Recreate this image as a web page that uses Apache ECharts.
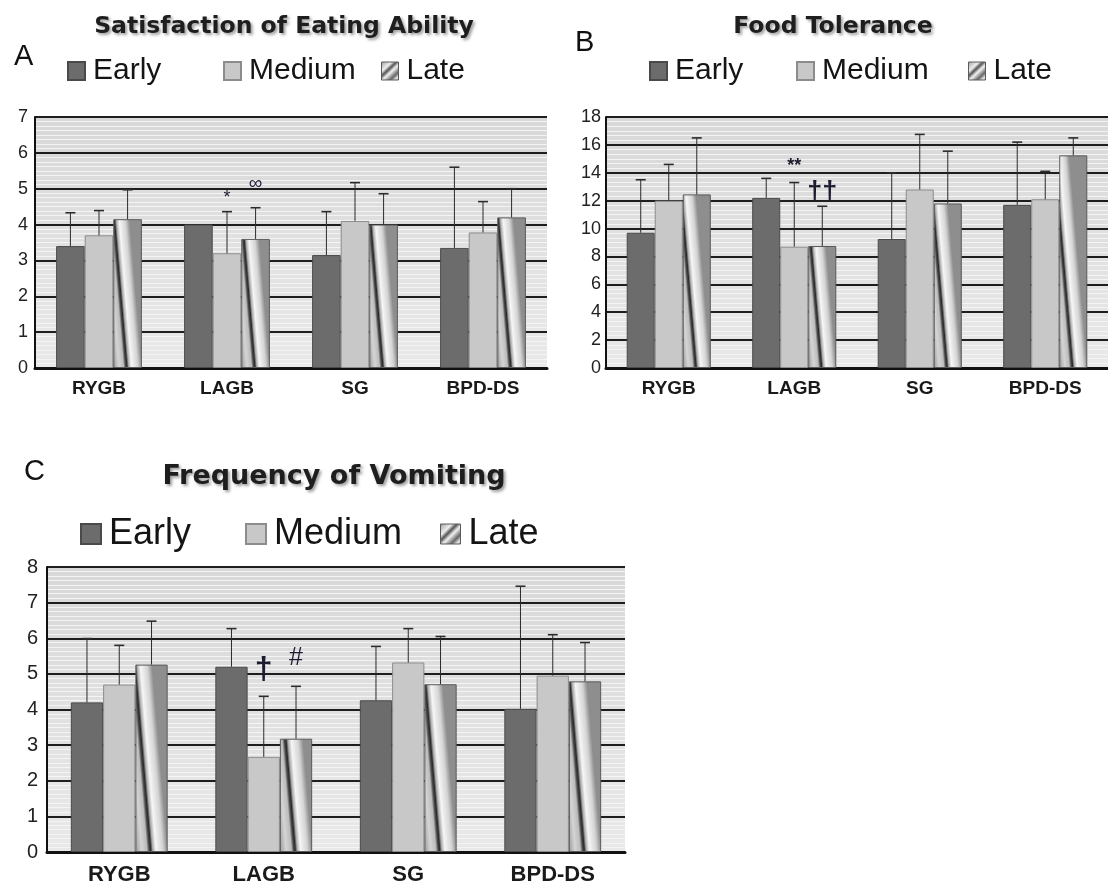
<!DOCTYPE html>
<html>
<head>
<meta charset="utf-8">
<script src="https://cdn.jsdelivr.net/npm/echarts@6/dist/echarts.min.js"></script>
<style>
  html, body { margin: 0; padding: 0; background: #ffffff; }
  #chart { width: 1108px; height: 888px; }
</style>
</head>
<body>
<div id="chart"></div>
<script>
// ---- data ----
const categories = ['RYGB', 'LAGB', 'SG', 'BPD-DS'];
const seriesNames = ['Early', 'Medium', 'Late'];

// A: Satisfaction of Eating Ability (means and mean + SD)
const eatingEarly = [3.4, 4.0, 3.15, 3.35];
const eatingMedium = [3.7, 3.2, 4.1, 3.78];
const eatingLate = [4.15, 3.6, 4.0, 4.2];
const eatingEarlyTop = [4.33, null, 4.36, 5.6];
const eatingMediumTop = [4.39, 4.36, 5.17, 4.64];
const eatingLateTop = [4.97, 4.47, 4.86, 5.0];
const eatingTicks = [0, 1, 2, 3, 4, 5, 6, 7];

// B: Food Tolerance
const toleranceEarly = [9.7, 12.2, 9.25, 11.7];
const toleranceMedium = [12.0, 8.7, 12.8, 12.1];
const toleranceLate = [12.45, 8.75, 11.8, 15.25];
const toleranceEarlyTop = [13.5, 13.6, 14.0, 16.2];
const toleranceMediumTop = [14.6, 13.3, 16.75, 14.1];
const toleranceLateTop = [16.5, 11.6, 15.55, 16.5];
const toleranceTicks = [0, 2, 4, 6, 8, 10, 12, 14, 16, 18];

// C: Frequency of Vomiting
const vomitingEarly = [4.2, 5.2, 4.26, 4.02];
const vomitingMedium = [4.7, 2.67, 5.32, 4.95];
const vomitingLate = [5.26, 3.18, 4.71, 4.79];
const vomitingEarlyTop = [5.99, 6.27, 5.77, 7.46];
const vomitingMediumTop = [5.8, 4.37, 6.27, 6.1];
const vomitingLateTop = [6.48, 4.65, 6.05, 5.88];
const vomitingTicks = [0, 1, 2, 3, 4, 5, 6, 7, 8];

// significance marks: category, series slot, height in axis units, symbol
const eatingMarks = [['LAGB', 'Medium', 4.74, '*'], ['LAGB', 'Late', 5.14, '\u221E']];
const toleranceMarks = [['LAGB', 'Medium', 14.5, '**'], ['LAGB', 'Late', 12.55, '\u2020\u2020']];
const vomitingMarks = [['LAGB', 'Medium', 5.11, '\u2020'], ['LAGB', 'Late', 5.44, '#']];

// ---- styling ----
const CAT_GAP = 0.33;
const TWIST = 0.085; // horizontal drift of the twisted highlight per pixel of bar height
const FONT = '"Liberation Sans", Arial, sans-serif';
const TITLE_FONT = '"DejaVu Sans", "Liberation Sans", sans-serif';

const lateStops = [
  { offset: 0, color: '#9a9a9a' },
  { offset: 0.2, color: '#d4d4d4' },
  { offset: 0.36, color: '#bcbcbc' },
  { offset: 0.43, color: '#484848' },
  { offset: 0.48, color: '#2a2a2a' },
  { offset: 0.54, color: '#ababab' },
  { offset: 0.64, color: '#f6f6f6' },
  { offset: 0.85, color: '#d4d4d4' },
  { offset: 1, color: '#8e8e8e' }
];
// gradient whose iso-lines lean left going up; dy is relative to the bar box
function lateFill(dy) {
  return new echarts.graphic.LinearGradient(0, 1, 1, 1 - dy, lateStops);
}
// hatched-looking key swatch for the Late series
const lateKeyFill = new echarts.graphic.LinearGradient(0, 0, 1, 1, [
  { offset: 0, color: '#9a9a9a' },
  { offset: 0.3, color: '#eeeeee' },
  { offset: 0.42, color: '#555555' },
  { offset: 0.55, color: '#f2f2f2' },
  { offset: 0.75, color: '#666666' },
  { offset: 0.88, color: '#e8e8e8' },
  { offset: 1, color: '#8a8a8a' }
]);
const barStyles = {
  Early: { color: '#6c6c6c', borderColor: '#4a4a4a', borderWidth: 1 },
  Medium: { color: '#c8c8c8', borderColor: '#8c8c8c', borderWidth: 1 },
  Late: { color: lateFill(0.02), borderColor: '#5a5a5a', borderWidth: 1 }
};

const panels = [
  { grid: { left: 35, top: 117, width: 512, height: 251 }, max: 7, interval: 1, minor: 8,
    values: [eatingEarly, eatingMedium, eatingLate], tops: [eatingEarlyTop, eatingMediumTop, eatingLateTop],
    ticks: eatingTicks, marks: eatingMarks, yFont: 18, xFont: 19, yMargin: 7, xMargin: 11,
    markFonts: { '*': [18, 'normal'], '\u221E': [19, 'normal'] } },
  { grid: { left: 606, top: 117, width: 510, height: 251 }, max: 18, interval: 2, minor: 6,
    values: [toleranceEarly, toleranceMedium, toleranceLate], tops: [toleranceEarlyTop, toleranceMediumTop, toleranceLateTop],
    ticks: toleranceTicks, marks: toleranceMarks, yFont: 18, xFont: 19, yMargin: 5, xMargin: 11,
    markFonts: { '**': [18, 'bold'], '\u2020\u2020': [27, 'bold'] } },
  { grid: { left: 47, top: 567, width: 578, height: 285 }, max: 8, interval: 1, minor: 8,
    values: [vomitingEarly, vomitingMedium, vomitingLate], tops: [vomitingEarlyTop, vomitingMediumTop, vomitingLateTop],
    ticks: vomitingTicks, marks: vomitingMarks, yFont: 20, xFont: 22, yMargin: 9, xMargin: 12,
    markFonts: { '\u2020': [32, 'bold'], '#': [25, 'normal'] } }
];

function slotOffset(api, slot) {
  const band = api.size([1, 0])[0];
  const barW = band * (1 - CAT_GAP) / 3;
  return (slot - 1) * barW;
}

function errorBarRenderer(slot) {
  return function (params, api) {
    const base = api.coord([api.value(0), api.value(1)]);
    const upper = api.coord([api.value(0), api.value(2)]);
    const x = base[0] + slotOffset(api, slot);
    const cap = 5;
    return {
      type: 'group',
      children: [
        { type: 'line', shape: { x1: x, y1: base[1], x2: x, y2: upper[1] },
          style: { stroke: '#2b2b2b', lineWidth: 1 } },
        { type: 'line', shape: { x1: x - cap, y1: upper[1], x2: x + cap, y2: upper[1] },
          style: { stroke: '#2b2b2b', lineWidth: 1.6 } }
      ]
    };
  };
}

function markRenderer(marks, fonts) {
  return function (params, api) {
    const m = marks[params.dataIndex];
    const slot = seriesNames.indexOf(m[1]);
    const p = api.coord([api.value(0), api.value(1)]);
    const f = fonts[m[3]] || [18, 'normal'];
    return {
      type: 'text',
      x: p[0] + slotOffset(api, slot),
      y: p[1],
      style: { text: m[3], fontSize: f[0], fontWeight: f[1], fontFamily: FONT,
        fill: '#1c1c30', align: 'center', verticalAlign: 'middle' }
    };
  };
}

const grids = [], xAxes = [], yAxes = [], series = [];
panels.forEach(function (p, gi) {
  const barW = p.grid.width / categories.length * (1 - CAT_GAP) / 3;
  const pxPerUnit = p.grid.height / p.max;
  grids.push(Object.assign({
    show: true, borderWidth: 0,
    backgroundColor: new echarts.graphic.LinearGradient(0, 0, 0, 1, [
      { offset: 0, color: '#d8d8d8' }, { offset: 1, color: '#e9e9e9' }
    ])
  }, p.grid));
  xAxes.push({
    type: 'category', gridIndex: gi, data: categories,
    axisLine: { lineStyle: { color: '#111', width: 3 } },
    axisTick: { show: false },
    axisLabel: { fontFamily: FONT, fontWeight: 'bold', fontSize: p.xFont, color: '#1a1a1a', margin: p.xMargin }
  });
  yAxes.push({
    type: 'value', gridIndex: gi, min: 0, max: p.max, interval: p.interval,
    axisLine: { show: true, lineStyle: { color: '#111', width: 2 } },
    axisTick: { show: false },
    axisLabel: { fontFamily: FONT, fontSize: p.yFont, color: '#222', margin: p.yMargin,
      formatter: function (v) { return p.ticks.indexOf(v) >= 0 ? String(v) : ''; } },
    splitLine: { show: true, lineStyle: { color: '#1e1e1e', width: 2 } },
    minorTick: { show: false, splitNumber: p.minor },
    minorSplitLine: { show: true, lineStyle: { color: '#f4f4f4', width: 1 } }
  });
  seriesNames.forEach(function (name, si) {
    let data = p.values[si];
    if (name === 'Late') {
      // keep the same lean on every bar regardless of its height
      data = data.map(function (v) {
        return { value: v, itemStyle: { color: lateFill(TWIST * barW / (v * pxPerUnit)) } };
      });
    }
    series.push({
      type: 'bar', name: name, xAxisIndex: gi, yAxisIndex: gi,
      data: data, barGap: '0%', barCategoryGap: (CAT_GAP * 100) + '%',
      itemStyle: barStyles[name], emphasis: { disabled: true }, z: 2
    });
  });
  seriesNames.forEach(function (name, si) {
    const rows = [];
    p.tops[si].forEach(function (top, ci) {
      if (top !== null) rows.push([ci, p.values[si][ci], top]);
    });
    series.push({
      type: 'custom', name: name, xAxisIndex: gi, yAxisIndex: gi,
      renderItem: errorBarRenderer(si), data: rows,
      encode: { x: 0, y: [1, 2] }, clip: false, z: 3, silent: true
    });
  });
  series.push({
    type: 'custom', name: 'marks' + gi, xAxisIndex: gi, yAxisIndex: gi,
    renderItem: markRenderer(p.marks, p.markFonts),
    data: p.marks.map(function (m) { return [categories.indexOf(m[0]), m[2]]; }),
    encode: { x: 0, y: 1 }, clip: false, z: 4, silent: true
  });
});

// one legend entry per slot, laid out like the original spread-out key
const legendSlots = [
  { lefts: [67, 223, 381], top: 56, size: 30, icon: [17, 18] },
  { lefts: [649, 796, 968], top: 56, size: 30, icon: [17, 18] },
  { lefts: [80, 245, 440], top: 516, size: 36, icon: [20, 20] }
];
const legends = [];
legendSlots.forEach(function (ls) {
  seriesNames.forEach(function (name, i) {
    const entry = name === 'Late'
      ? { name: name, itemStyle: { color: lateKeyFill, borderColor: '#5a5a5a', borderWidth: 1 } }
      : name;
    legends.push({
      data: [entry], left: ls.lefts[i], top: ls.top, padding: 0,
      icon: 'rect', itemWidth: ls.icon[0], itemHeight: ls.icon[1], selectedMode: false,
      textStyle: { fontFamily: FONT, fontSize: ls.size, color: '#141414', padding: [0, 0, 0, 3] }
    });
  });
});

const shadow = { textShadowColor: 'rgba(0,0,0,0.38)', textShadowBlur: 3, textShadowOffsetX: 2, textShadowOffsetY: 2 };
const titles = [
  { text: 'Satisfaction of Eating Ability', left: 284, top: 15, textAlign: 'center', padding: 0,
    textStyle: Object.assign({ fontFamily: TITLE_FONT, fontWeight: 'bold', fontSize: 23.5, color: '#1e1e1e' }, shadow) },
  { text: 'Food Tolerance', left: 833, top: 15, textAlign: 'center', padding: 0,
    textStyle: Object.assign({ fontFamily: TITLE_FONT, fontWeight: 'bold', fontSize: 23.5, color: '#1e1e1e' }, shadow) },
  { text: 'Frequency of Vomiting', left: 334, top: 463, textAlign: 'center', padding: 0,
    textStyle: Object.assign({ fontFamily: TITLE_FONT, fontWeight: 'bold', fontSize: 27, color: '#1e1e1e' }, shadow) },
  { text: 'A', left: 14, top: 42, padding: 0, textStyle: { fontFamily: FONT, fontWeight: 'normal', fontSize: 29, color: '#111' } },
  { text: 'B', left: 575, top: 28, padding: 0, textStyle: { fontFamily: FONT, fontWeight: 'normal', fontSize: 29, color: '#111' } },
  { text: 'C', left: 24, top: 457, padding: 0, textStyle: { fontFamily: FONT, fontWeight: 'normal', fontSize: 29, color: '#111' } }
];

const chart = echarts.init(document.getElementById('chart'), null, { renderer: 'canvas' });
chart.setOption({
  animation: false,
  backgroundColor: '#ffffff',
  title: titles,
  legend: legends,
  grid: grids,
  xAxis: xAxes,
  yAxis: yAxes,
  series: series
});
</script>
</body>
</html>
